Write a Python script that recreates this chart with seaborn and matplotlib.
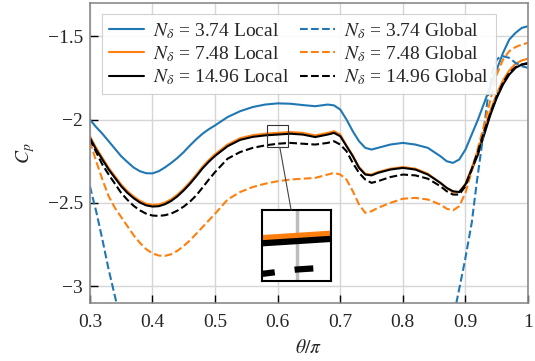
import matplotlib
matplotlib.use("Agg")
import matplotlib.pyplot as plt
import seaborn as sns
from matplotlib.patches import Rectangle, ConnectionPatch
from matplotlib.ticker import FixedLocator, FuncFormatter

# Angular positions (theta / pi) shared by the local and refined global curves
theta = [0.30, 0.31, 0.32, 0.33, 0.34, 0.35, 0.36, 0.37, 0.38, 0.39,
         0.40, 0.41, 0.42, 0.43, 0.44, 0.45, 0.46, 0.47, 0.48, 0.49,
         0.50, 0.52, 0.54, 0.56, 0.58, 0.60, 0.62, 0.64, 0.66, 0.68,
         0.69, 0.70, 0.71, 0.72, 0.73, 0.74, 0.75, 0.76, 0.78, 0.80,
         0.82, 0.84, 0.86, 0.87, 0.88, 0.89, 0.90, 0.91, 0.92, 0.93,
         0.94, 0.95, 0.96, 0.97, 0.98, 0.99, 1.00]

cp_local_374 = [-2.000, -2.045, -2.085, -2.130, -2.175, -2.220, -2.255, -2.288, -2.310, -2.322,
                -2.323, -2.310, -2.287, -2.260, -2.230, -2.195, -2.155, -2.118, -2.085, -2.058,
                -2.035, -1.985, -1.950, -1.925, -1.910, -1.903, -1.905, -1.913, -1.920, -1.910,
                -1.915, -1.940, -2.000, -2.070, -2.130, -2.170, -2.180, -2.170, -2.150, -2.140,
                -2.150, -2.170, -2.220, -2.250, -2.260, -2.240, -2.180, -2.090, -2.000, -1.900,
                -1.800, -1.700, -1.600, -1.520, -1.480, -1.450, -1.440]

cp_local_748 = [-2.100, -2.170, -2.230, -2.290, -2.340, -2.390, -2.430, -2.462, -2.488, -2.505,
                -2.512, -2.510, -2.498, -2.478, -2.450, -2.415, -2.375, -2.330, -2.283, -2.243,
                -2.208, -2.150, -2.112, -2.094, -2.085, -2.080, -2.075, -2.080, -2.095, -2.080,
                -2.070, -2.090, -2.155, -2.215, -2.285, -2.325, -2.330, -2.315, -2.295, -2.285,
                -2.295, -2.325, -2.380, -2.410, -2.435, -2.435, -2.385, -2.290, -2.185, -2.065,
                -1.945, -1.845, -1.765, -1.705, -1.665, -1.645, -1.635]

cp_local_1496 = [-2.110, -2.180, -2.240, -2.300, -2.350, -2.400, -2.440, -2.472, -2.498, -2.515,
                 -2.522, -2.520, -2.508, -2.488, -2.460, -2.425, -2.385, -2.340, -2.293, -2.253,
                 -2.218, -2.160, -2.122, -2.104, -2.095, -2.090, -2.085, -2.090, -2.105, -2.090,
                 -2.080, -2.100, -2.160, -2.220, -2.290, -2.330, -2.335, -2.320, -2.300, -2.290,
                 -2.300, -2.330, -2.380, -2.410, -2.430, -2.435, -2.390, -2.300, -2.210, -2.090,
                 -1.970, -1.870, -1.790, -1.730, -1.690, -1.670, -1.660]

cp_global_748 = [-2.130, -2.250, -2.360, -2.460, -2.530, -2.585, -2.640, -2.695, -2.740, -2.778,
                 -2.803, -2.816, -2.818, -2.808, -2.787, -2.758, -2.725, -2.685, -2.645, -2.605,
                 -2.565, -2.480, -2.435, -2.405, -2.385, -2.370, -2.360, -2.355, -2.350, -2.330,
                 -2.320, -2.330, -2.360, -2.430, -2.510, -2.560, -2.550, -2.530, -2.500, -2.475,
                 -2.470, -2.480, -2.510, -2.535, -2.545, -2.520, -2.440, -2.310, -2.170, -2.030,
                 -1.880, -1.730, -1.640, -1.590, -1.565, -1.550, -1.540]

cp_global_1496 = [-2.115, -2.195, -2.270, -2.330, -2.385, -2.440, -2.482, -2.518, -2.545, -2.565,
                  -2.576, -2.578, -2.574, -2.564, -2.546, -2.522, -2.492, -2.455, -2.408, -2.360,
                  -2.315, -2.235, -2.195, -2.170, -2.155, -2.145, -2.140, -2.145, -2.150, -2.140,
                  -2.130, -2.150, -2.190, -2.260, -2.320, -2.360, -2.380, -2.370, -2.345, -2.330,
                  -2.335, -2.355, -2.400, -2.430, -2.450, -2.450, -2.400, -2.300, -2.190, -2.070,
                  -1.960, -1.860, -1.780, -1.720, -1.685, -1.670, -1.665]

# The coarse global curve drops below the plotted range between its two ends
theta_global_374 = [0.300, 0.310, 0.320, 0.330, 0.340, 0.350,
                    0.880, 0.886, 0.899, 0.910, 0.918, 0.926, 0.936, 0.944,
                    0.950, 0.955, 0.960, 0.970, 0.980, 0.990, 1.000]
cp_global_374 = [-2.40, -2.55, -2.72, -2.90, -3.06, -3.22,
                 -3.25, -3.09, -2.85, -2.62, -2.38, -2.16, -1.86, -1.70,
                 -1.64, -1.625, -1.62, -1.63, -1.66, -1.68, -1.69]

series = [
    (theta, cp_local_374, r"$N_\delta$ = 3.74 Local", "#1f77b4", "-"),
    (theta, cp_local_748, r"$N_\delta$ = 7.48 Local", "#ff7f0e", "-"),
    (theta, cp_local_1496, r"$N_\delta$ = 14.96 Local", "black", "-"),
    (theta_global_374, cp_global_374, r"$N_\delta$ = 3.74 Global", "#1f77b4", "--"),
    (theta, cp_global_748, r"$N_\delta$ = 7.48 Global", "#ff7f0e", "--"),
    (theta, cp_global_1496, r"$N_\delta$ = 14.96 Global", "black", "--"),
]

sns.set_theme(style="ticks")
plt.rcParams["font.family"] = ["Liberation Serif", "DejaVu Serif"]
plt.rcParams["mathtext.fontset"] = "stix"

fig = plt.figure(figsize=(5.35, 3.61), dpi=100)
ax = fig.add_axes([0.168, 0.161, 0.819, 0.831])

for x, y, label, color, ls in series:
    sns.lineplot(x=x, y=y, ax=ax, color=color, linestyle=ls, linewidth=1.5,
                 label=label, estimator=None)

ax.set_xlim(0.3, 1.0)
ax.set_ylim(-3.1, -1.3)
ax.xaxis.set_major_locator(FixedLocator([0.3, 0.4, 0.5, 0.6, 0.7, 0.8, 0.9, 1.0]))
ax.yaxis.set_major_locator(FixedLocator([-3, -2.5, -2, -1.5]))
fmt = FuncFormatter(lambda v, _: f"{v:g}".replace("-", "\u2212"))
ax.xaxis.set_major_formatter(fmt)
ax.yaxis.set_major_formatter(fmt)
ax.tick_params(direction="in", length=6, width=1, color="black",
               labelsize=14, top=False, right=False)
ax.tick_params(axis="x", pad=8)
ax.tick_params(axis="y", pad=5)
ax.grid(True, color="#d6d6d6", linewidth=1)
for sp in ax.spines.values():
    sp.set_color("#8a8a8a")
    sp.set_linewidth(1.2)

ax.set_xlabel(r"$\theta/\pi$", fontsize=14, labelpad=6)
ax.set_ylabel(r"$C_p$", fontsize=14, labelpad=8)

leg = ax.legend(ncol=2, loc="upper center", bbox_to_anchor=(0.477, 0.975),
                fontsize=14, frameon=True, fancybox=False, edgecolor="#cccccc",
                framealpha=0.9, handlelength=1.8, labelspacing=0.18,
                columnspacing=0.6, handletextpad=0.45, borderpad=0.35,
                borderaxespad=0.2)
leg.get_frame().set_linewidth(0.8)

# Zoomed view around theta/pi = 0.6
x0, x1, y0, y1 = 0.583, 0.617, -2.167, -2.03
ax.add_patch(Rectangle((x0, y0), x1 - x0, y1 - y0, fill=False,
                       edgecolor="#333333", linewidth=0.8, zorder=5))

axins = fig.add_axes([0.490, 0.222, 0.129, 0.196])
for x, y, label, color, ls in series[1:3] + series[5:]:
    if ls == "--":
        sns.lineplot(x=x, y=y, ax=axins, color=color, linewidth=4.5,
                     estimator=None).lines[-1].set_dashes((3, 3.2))
    else:
        sns.lineplot(x=x, y=y, ax=axins, color=color, linewidth=4.5,
                     estimator=None)
axins.set_xlim(x0, x1)
axins.set_ylim(y0, y1)
axins.set_xticks([0.6])
axins.set_yticks([])
axins.tick_params(length=0, labelbottom=False)
axins.grid(True, axis="x", color="#bdbdbd", linewidth=2.5)
axins.grid(False, axis="y")
axins.set_xlabel("")
axins.set_ylabel("")
for sp in axins.spines.values():
    sp.set_color("black")
    sp.set_linewidth(1.5)

con = ConnectionPatch(xyA=(0.6035, y0), coordsA=ax.transData,
                      xyB=(0.42, 1.0), coordsB=axins.transAxes,
                      color="#444444", linewidth=0.8)
fig.add_artist(con)

fig.savefig("out.png", dpi=100)
